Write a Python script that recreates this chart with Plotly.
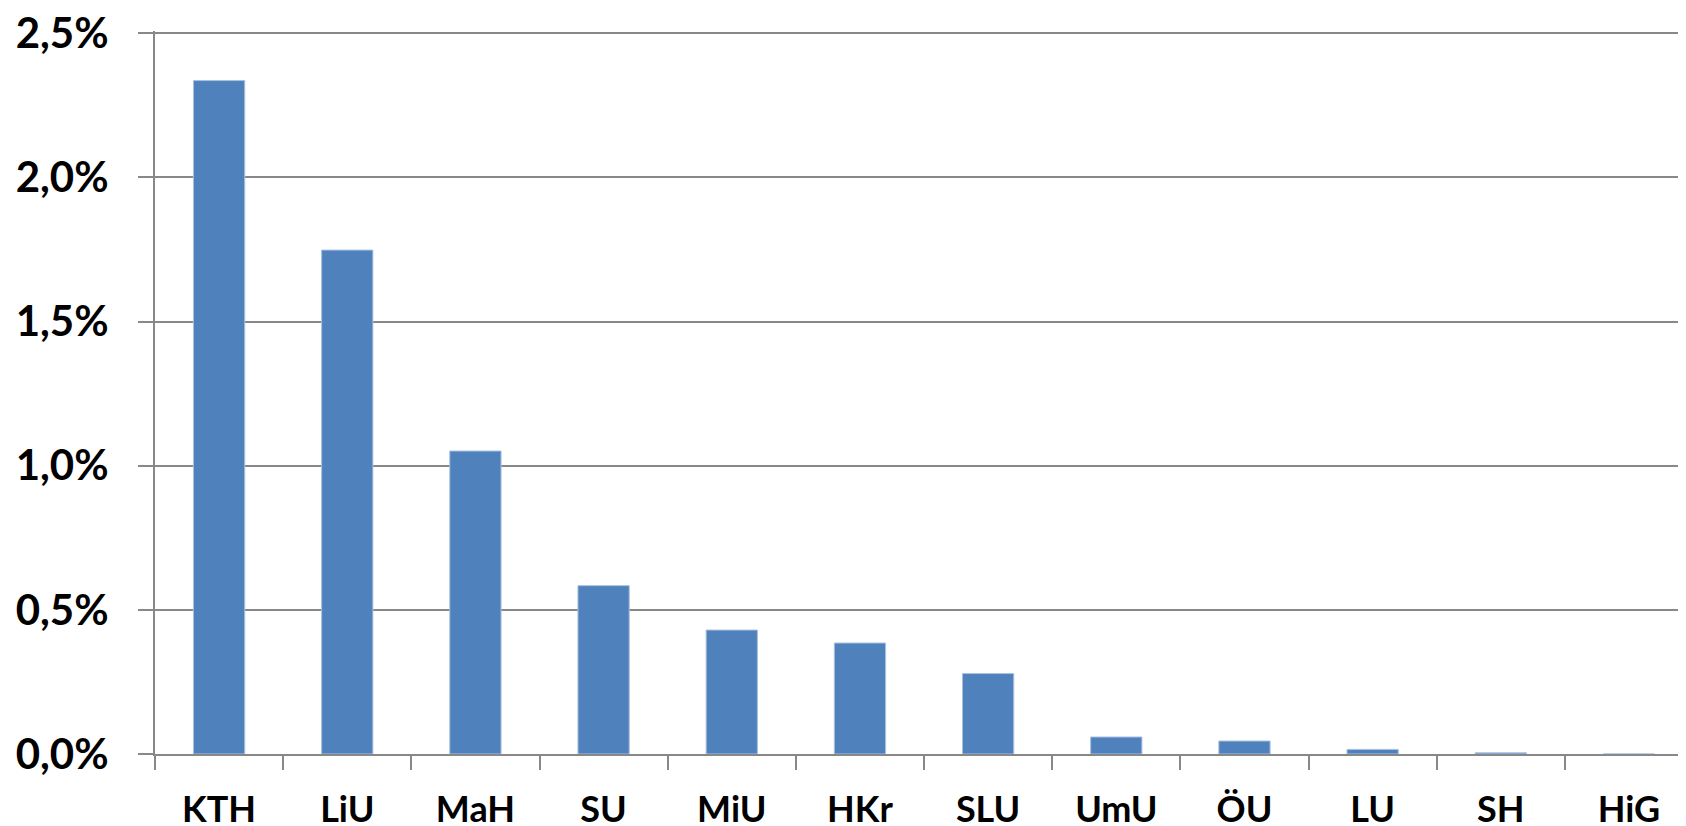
import plotly.graph_objects as go

categories = ["KTH", "LiU", "MaH", "SU", "MiU", "HKr", "SLU", "UmU", "ÖU", "LU", "SH", "HiG"]
values_pct = [2.336, 1.748, 1.051, 0.584, 0.430, 0.385, 0.279, 0.059, 0.045, 0.016, 0.004, 0.0]
y_tick_vals = [0.0, 0.5, 1.0, 1.5, 2.0, 2.5]
y_tick_text = ["0,0%", "0,5%", "1,0%", "1,5%", "2,0%", "2,5%"]

GRID = "#888888"

fig = go.Figure(
    go.Bar(
        x=categories,
        y=values_pct,
        width=0.4,
        marker=dict(color="#4f81bd", line=dict(color="#a9c1df", width=1)),
        hoverinfo="x+y",
    )
)

# the page body adds an 8px offset on the left and top
fig.update_layout(
    width=1678,
    height=818,
    margin=dict(l=147, r=0, t=22.7, b=71.5),
    paper_bgcolor="white",
    plot_bgcolor="white",
    showlegend=False,
)

fig.update_xaxes(
    type="category",
    range=[-0.5, 11.445],
    automargin=False,
    showgrid=False,
    showline=True,
    linecolor=GRID,
    linewidth=2,
    ticks="outside",
    ticklen=14,
    tickwidth=2,
    tickcolor=GRID,
    tickson="boundaries",
    tickfont=dict(family="Lato", size=36, color="black", weight="bold"),
    ticklabelstandoff=23,
    ticklabeloverflow="allow",
)

fig.update_yaxes(
    range=[0, 2.508],
    automargin=False,
    tickvals=y_tick_vals,
    ticktext=y_tick_text,
    showgrid=True,
    gridcolor=GRID,
    gridwidth=2,
    showline=True,
    linecolor=GRID,
    linewidth=2,
    ticks="outside",
    ticklen=15,
    tickwidth=2,
    tickcolor=GRID,
    zeroline=False,
    tickfont=dict(family="Lato", size=42, color="black", weight="bold"),
    ticklabelstandoff=21,
    ticklabeloverflow="allow",
)

fig.write_html("out.html")
